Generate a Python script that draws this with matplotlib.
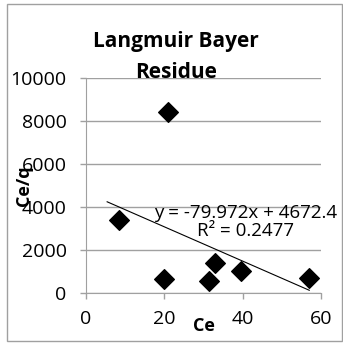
import numpy as np
import matplotlib.pyplot as plt
from matplotlib.patches import Rectangle

plt.rcParams['font.family'] = ['Open Sans', 'DejaVu Sans']

# Langmuir data: equilibrium concentration vs Ce/q
ce = [8.4, 20.0, 21.0, 31.5, 33.0, 39.6, 57.0]
ce_q = [3400, 660, 8450, 540, 1380, 1000, 690]

# linear trendline from the fit
slope = -79.972
intercept = 4672.4
r2 = 0.2477
fit_x = [5.4, 57.0]

xticks = [0, 20, 40, 60]
yticks = [0, 2000, 4000, 6000, 8000, 10000]

fig = plt.figure(figsize=(3.43, 3.44), dpi=100)
ax = fig.add_axes([0.2507, 0.1491, 0.6852, 0.6233])

grey = '#a0a0a0'
ax.scatter(ce, ce_q, marker='D', s=100, color='black', zorder=3)
fx = np.array(fit_x)
ax.plot(fx, slope * fx + intercept, color='black', lw=0.8, zorder=2)

ax.set_xlim(0, 60)
ax.set_ylim(0, 10000)
ax.set_xticks(xticks)
ax.set_yticks(yticks)
ax.yaxis.grid(True, color=grey, lw=1)
ax.set_axisbelow(True)
for s in ['top', 'right']:
    ax.spines[s].set_visible(False)
for s in ['left', 'bottom']:
    ax.spines[s].set_color(grey)
ax.tick_params(colors=grey, labelcolor='black', labelsize=14, length=4, width=1)
ax.tick_params(axis='y', pad=10)
ax.tick_params(axis='x', pad=8.5)

ax.set_xlabel('Ce', fontsize=13, fontweight='bold', labelpad=-8)
ax.set_ylabel('Ce/q', fontsize=13, fontweight='bold')
ax.yaxis.set_label_coords(-0.225, 0.5)

ax.text(40.7, 3300, f'y = {slope}x + {intercept}\nR² = {r2}', ha='center', va='center',
        fontsize=13.5, linespacing=1.05)

fig.text(0.513, 0.835, 'Langmuir Bayer\nResidue', ha='center', va='center',
         fontsize=15, fontweight='bold', linespacing=1.6)

fig.patches.append(Rectangle((0.0204, 0.0087), 0.9767, 0.9797, transform=fig.transFigure,
                             fill=False, edgecolor=grey, lw=1))

fig.savefig('out.png', dpi=100)
